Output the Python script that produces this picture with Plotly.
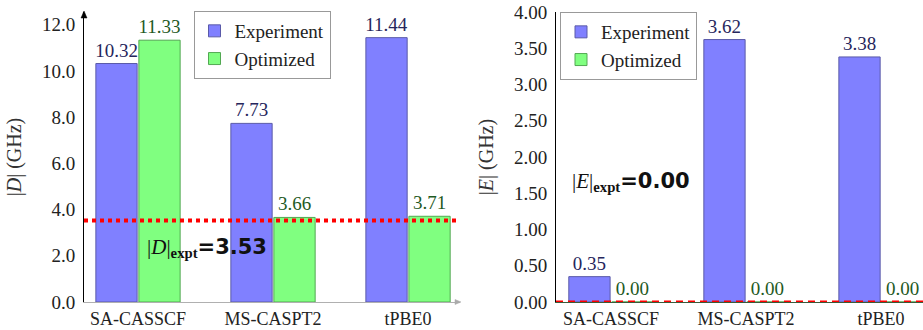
import plotly.graph_objects as go

methods = ["SA-CASSCF", "MS-CASPT2", "tPBE0"]
series_names = ["Experiment", "Optimized"]
D_experiment = [10.32, 7.73, 11.44]
D_optimized = [11.33, 3.66, 3.71]
E_experiment = [0.35, 3.62, 3.38]
E_optimized = [0.00, 0.00, 0.00]
D_expt_value = 3.53
E_expt_value = 0.00

SERIF = "Liberation Serif"
BLUE_FILL = "#8080ff"
BLUE_EDGE = "#5a5aa8"
BLUE_TEXT = "#26265c"
GREEN_FILL = "#80ff80"
GREEN_EDGE = "#52a852"
GREEN_TEXT = "#1f5a1f"

fig = go.Figure()

def add_bars(vals, name, fill, edge, tcol, xa, ya, leg, group, fmt):
    fig.add_trace(go.Bar(
        x=methods, y=vals, name=name, xaxis=xa, yaxis=ya, legend=leg,
        offsetgroup=group,
        marker=dict(color=fill, line=dict(color=edge, width=1)),
        text=[fmt.format(v) for v in vals], textposition="outside",
        textfont=dict(family=SERIF, size=19, color=tcol),
        constraintext="none", cliponaxis=False, hoverinfo="skip",
    ))

add_bars(D_experiment, series_names[0], BLUE_FILL, BLUE_EDGE, BLUE_TEXT, "x", "y", "legend", "a", "{:.2f}")
add_bars(D_optimized, series_names[1], GREEN_FILL, GREEN_EDGE, GREEN_TEXT, "x", "y", "legend", "b", "{:.2f}")
add_bars(E_experiment, series_names[0], BLUE_FILL, BLUE_EDGE, BLUE_TEXT, "x2", "y2", "legend2", "a", "{:.2f}")
add_bars(E_optimized, series_names[1], GREEN_FILL, GREEN_EDGE, GREEN_TEXT, "x2", "y2", "legend2", "b", "{:.2f}")

# reference lines
fig.add_shape(type="line", xref="x domain", yref="y", x0=0, x1=1, y0=D_expt_value, y1=D_expt_value,
              line=dict(color="#ff0000", width=4, dash="dot"), layer="above")
fig.add_shape(type="line", xref="x2 domain", yref="y2", x0=0, x1=1, y0=E_expt_value, y1=E_expt_value,
              line=dict(color="#ff0000", width=3, dash="7px,5px"), layer="above")

fig.add_annotation(x=0.51, y=2.32, xref="x", yref="y", showarrow=False,
                   text="|<i>D</i>|<sub><b>expt</b></sub><span style='font-family:DejaVu Sans'><b>=%.2f</b></span>" % D_expt_value,
                   font=dict(family=SERIF, size=21, color="#111"))
fig.add_annotation(x=0.15, y=1.65, xref="x2", yref="y2", showarrow=False,
                   text="|<i>E</i>|<sub><b>expt</b></sub><span style='font-family:DejaVu Sans'><b>=%.2f</b></span>" % E_expt_value,
                   font=dict(family=SERIF, size=21, color="#111"))

# axis arrowheads (pixel-sized paths anchored at axis ends)
fig.add_shape(type="path", xref="x domain", yref="y domain", xsizemode="pixel", ysizemode="pixel",
              xanchor=0, yanchor=1, path="M-3,-6 L0,1 L3,-6 Z",
              fillcolor="#000", line=dict(color="#000", width=0.5), layer="above")
fig.add_shape(type="path", xref="x domain", yref="y domain", xsizemode="pixel", ysizemode="pixel",
              xanchor=1, yanchor=0, path="M-5,2.5 L1,0 L-5,-2.5 Z",
              fillcolor="#aaaaaa", line=dict(color="#aaaaaa", width=0.5), layer="above")

ydom = [28 / 330, 318 / 330]
common_x = dict(showgrid=False, zeroline=False, ticks="", showline=True, linewidth=1,
                tickfont=dict(family=SERIF, size=18, color="#222"), automargin=False, ticklabelstandoff=0)
common_y = dict(showgrid=False, zeroline=False, ticks="", showline=True, linecolor="#000", linewidth=1,
                tickfont=dict(family=SERIF, size=19, color="#222"), automargin=False, ticklabelstandoff=4)

legend_common = dict(yanchor="top", bgcolor="white", bordercolor="#999", borderwidth=1,
                     font=dict(family=SERIF, size=19, color="#222"), itemwidth=30, tracegroupgap=0)

fig.update_layout(
    template="none",
    width=923, height=330,
    font=dict(family=SERIF, size=18, color="#222"),
    margin=dict(l=0, r=0, t=0, b=0),
    paper_bgcolor="white", plot_bgcolor="white",
    barmode="group", bargap=0.363, bargroupgap=0.04,
    xaxis=dict(domain=[84 / 923, 460 / 923], anchor="y", range=[-0.4, 2.385],
               linecolor="#b0b0b0", **common_x),
    yaxis=dict(domain=ydom, anchor="x", range=[0, 12.55], dtick=2, tickformat=".1f",
               title=dict(text="|<i>D</i>| (GHz)", font=dict(family=SERIF, size=20, color="#333"), standoff=14),
               **common_y),
    xaxis2=dict(domain=[556 / 923, 1.0], anchor="y2", range=[-0.407, 2.311],
                linecolor="#3a5a3a", **common_x),
    yaxis2=dict(domain=ydom, anchor="x2", range=[0, 4.0], dtick=0.5, tickformat=".2f",
                title=dict(text="|<i>E</i>| (GHz)", font=dict(family=SERIF, size=20, color="#333"), standoff=14),
                **common_y),
    legend=dict(x=262 / 923, xanchor="center", y=319 / 330, **legend_common),
    legend2=dict(x=560 / 923, xanchor="left", y=318 / 330, **legend_common),
    showlegend=True,
)

fig.write_html("out.html", config={"displayModeBar": False},
               post_script="document.body.style.margin='0';document.body.style.overflow='hidden';")
